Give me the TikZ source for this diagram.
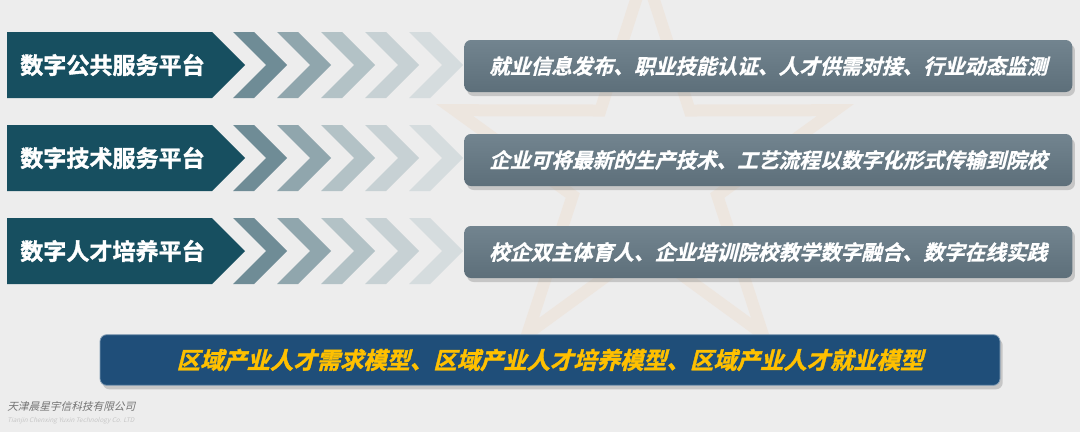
\documentclass[tikz,border=0pt]{standalone}
\usepackage{tikz}
\usepackage{xcolor}
\usepackage{fontspec}
\usetikzlibrary{shadows}
\newfontfamily\cjkbf{Noto Sans CJK SC Bold}[FakeBold=1.6]
\newfontfamily\cjkit{Noto Sans CJK SC Bold}[FakeSlant=0.25,FakeBold=1]
\newfontfamily\cjkhv{Noto Sans CJK SC Bold}[FakeSlant=0.25,FakeBold=1.6]
\newfontfamily\cjkrg{Noto Sans CJK SC}[FakeSlant=0.25]
\definecolor{bgcol}{HTML}{EDEDED}
\definecolor{labcol}{HTML}{174F60}
\definecolor{boxtop}{HTML}{72848F}
\definecolor{boxbot}{HTML}{5D6F7A}
\definecolor{modcol}{HTML}{1F4E79}
\definecolor{modtxt}{HTML}{FFC000}
\definecolor{starcol}{HTML}{EEDCCB}
\definecolor{chevA}{HTML}{6F8C96}
\definecolor{chevB}{HTML}{90A6AD}
\definecolor{chevC}{HTML}{B3C2C6}
\definecolor{chevD}{HTML}{C7D1D4}
\definecolor{chevE}{HTML}{D5DCDE}
\newcommand{\chev}[3]{\fill[#3] (#1,#2) -- ++(21,0) -- ++(33,33) -- ++(-33,33)
                       -- ++(-21,0) -- ++(33,-33) -- cycle;}
\newcommand{\plat}[1]{\fill[labcol] (7,#1) -- (212,#1) -- ++(33,33) -- ++(-33,33)
                       -- (7,#1+66) -- cycle;}

\begin{document}
\begin{tikzpicture}[x=0.75pt,y=-0.75pt,
   lab/.style={anchor=west,text=white,font=\cjkbf\fontsize{17.3}{20}\selectfont,inner sep=0pt},
   info/.style={anchor=west,rounded corners=5pt,top color=boxtop,bottom color=boxbot,
                minimum width=456pt,minimum height=39pt,text=white,
                font=\cjkit\fontsize{15.5}{18}\selectfont,
                drop shadow={opacity=0.35,shadow xshift=2pt,shadow yshift=-3pt}},
   model/.style={rounded corners=5pt,fill=modcol,draw=modcol!55!white,line width=0.6pt,
                minimum width=675pt,minimum height=38pt,text=modtxt,
                font=\cjkhv\fontsize{17.5}{20}\selectfont,
                drop shadow={opacity=0.35,shadow xshift=2pt,shadow yshift=-3pt}}]
 \fill[bgcol] (0,0) rectangle (1080,432);
 \useasboundingbox (0,0) rectangle (1080,432);

 \draw[starcol,line width=9pt,line join=miter,opacity=0.4]
    ([shift={(645,172)}]-90:200)
    \foreach \a in {-54,18,90,162} {-- ([shift={(645,172)}]\a:76) -- ([shift={(645,172)}]{\a+36}:200)}
    -- ([shift={(645,172)}]234:76) -- cycle;

 \foreach \T in {32,125,218} {
   \plat{\T}
   \foreach \i/\c in {0/chevA,1/chevB,2/chevC,3/chevD,4/chevE} {
     \chev{233+44*\i}{\T}{\c}
   }
 }

 \draw (20,65)  node[lab] (P1) {数字公共服务平台};
 \draw (20,158) node[lab] (P2) {数字技术服务平台};
 \draw (20,251) node[lab] (P3) {数字人才培养平台};

 \draw (464,66)  node[info] (I1) {就业信息发布、职业技能认证、人才供需对接、行业动态监测};
 \draw (464,160) node[info] (I2) {企业可将最新的生产技术、工艺流程以数字化形式传输到院校};
 \draw (464,252) node[info] (I3) {校企双主体育人、企业培训院校教学数字融合、数字在线实践};

 \draw (550,360) node[model] (M) {区域产业人才需求模型、区域产业人才培养模型、区域产业人才就业模型};

 \draw (7,406) node[anchor=west,inner sep=0pt,text=black!55,font=\cjkrg\fontsize{8}{9}\selectfont] (F1)
    {天津晨星宇信科技有限公司};
 \draw (7,421) node[anchor=west,inner sep=0pt,text=black!22,font=\cjkrg\fontsize{4.8}{5}\selectfont] (F2)
    {Tianjin Chenxing Yuxin Technology Co. LTD};
\end{tikzpicture}
\end{document}
